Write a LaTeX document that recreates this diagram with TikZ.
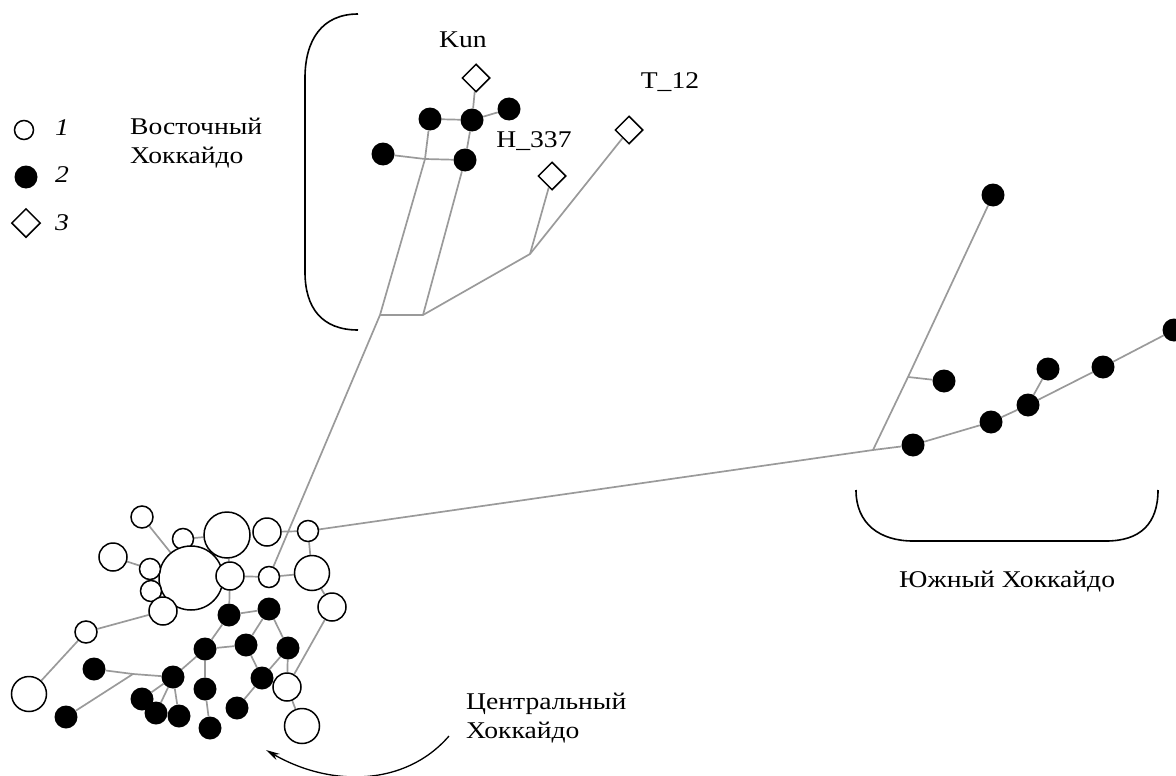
\documentclass[tikz,border=0pt]{standalone}
\usepackage{fontspec}
\setmainfont{Liberation Serif}[FakeStretch=1.15]
\usetikzlibrary{shapes.geometric,backgrounds,arrows.meta}
\definecolor{edgegray}{HTML}{9A9A9A}
\tikzset{
  oc/.style={circle, draw=black, line width=1.5pt, fill=white, inner sep=0pt, minimum size=#1},
  fc/.style={circle, fill=black, inner sep=0pt, minimum size=23pt},
  dm/.style={diamond, draw=black, line width=1.5pt, fill=white, inner sep=0pt, minimum size=28pt},
  ed/.style={draw=edgegray, line width=1.7pt},
  lbl/.style={font=\fontsize{24}{29}\selectfont, inner sep=0pt},
  brk/.style={draw=black, line width=1.6pt},
}
\begin{document}
\begin{tikzpicture}[x=1pt,y=-1pt]
\useasboundingbox (0,0) rectangle (1176,776);
% legend
\node[oc=19pt] (lg1) at (24,130) {};
\node[lbl, font=\fontsize{24}{29}\selectfont\itshape] (lt1) at (62,128) {1};
\node[fc, minimum size=23pt] (lg2) at (26,177) {};
\node[lbl, font=\fontsize{24}{29}\selectfont\itshape] (lt2) at (62,175) {2};
\node[dm, minimum size=29pt] (lg3) at (26,223) {};
\node[lbl, font=\fontsize{24}{29}\selectfont\itshape] (lt3) at (62,223) {3};
% region labels
\node[lbl, anchor=west, align=left] (east) at (130,143) {Восточный\\Хоккайдо};
\node[lbl] (south) at (1007,582) {Южный Хоккайдо};
\node[lbl, anchor=west, align=left] (central) at (466,718) {Центральный\\Хоккайдо};
% brackets
\draw[brk] (358,14) .. controls (322,14) and (305,40) .. (305,78) -- (305,272) .. controls (305,308) and (322,330) .. (358,330);
\draw[brk] (856,490) .. controls (856,524) and (880,541) .. (913,541) -- (1106,541) .. controls (1140,541) and (1158,524) .. (1158,490);
% arrow
\coordinate (arS) at (449,736);
\coordinate (arE) at (266,750);
\draw[line width=1.3pt, -{Stealth[length=14pt,width=7pt]}] (arS) .. controls (405,787) and (330,787) .. (arE);

% ---- East tree ----
\coordinate (R1) at (380,315);
\coordinate (R2) at (423,315);
\coordinate (R3) at (530,254);
\coordinate (J1) at (425,159);
\node[dm] (kun) at (476,78) {};
\node[dm] (h337) at (552,176) {};
\node[dm] (t12) at (629,130) {};
\node[lbl] (kunl) at (463,40) {Kun};
\node[lbl] (h337l) at (534,141) {H\_337};
\node[lbl] (t12l) at (670,82) {T\_12};
\node[fc] (e1) at (430,119) {};
\node[fc] (e2) at (472,120) {};
\node[fc] (e3) at (509,109) {};
\node[fc] (e4) at (383,154) {};
\node[fc] (e5) at (465,160) {};

% ---- South tree ----
\coordinate (SJ) at (873,450);
\coordinate (SB) at (908,377);
\node[fc] (s1) at (993,195) {};
\node[fc] (s2) at (944,381) {};
\node[fc] (s3) at (913,445) {};
\node[fc] (s4) at (991,422) {};
\node[fc] (s5) at (1028,405) {};
\node[fc] (s6) at (1048,369) {};
\node[fc] (s7) at (1103,367) {};
\node[fc] (s8) at (1174,330) {};

% ---- Central cluster ----
\node[oc=22pt] (A) at (142,517) {};
\node[oc=28pt] (B) at (113,557) {};
\node[oc=21pt] (C) at (183,539) {};
\node[oc=46pt] (D) at (227,535) {};
\node[oc=28pt] (E) at (267,532) {};
\node[oc=21pt] (F) at (308,531) {};
\node[oc=64pt] (G) at (191,578) {};
\node[oc=21pt] (H) at (150,569) {};
\node[oc=21pt] (I) at (151,591) {};
\node[oc=28pt] (J) at (163,611) {};
\node[oc=28pt] (K) at (230,576) {};
\node[oc=21pt] (L) at (269,577) {};
\node[oc=35pt] (M) at (312,573) {};
\node[oc=28pt] (N) at (332,607) {};
\node[oc=22pt] (O) at (86,632) {};
\node[oc=35pt] (P) at (29,694) {};
\node[oc=28pt] (Q) at (287,687) {};
\node[oc=35pt] (R) at (302,726) {};
\node[fc] (a) at (229,615) {};
\node[fc] (b) at (269,609) {};
\node[fc] (c) at (205,649) {};
\node[fc] (d) at (246,645) {};
\node[fc] (e) at (288,648) {};
\node[fc] (f) at (94,669) {};
\node[fc] (g) at (173,677) {};
\node[fc] (h) at (262,678) {};
\node[fc] (i) at (205,689) {};
\node[fc] (j) at (142,699) {};
\node[fc] (k) at (156,713) {};
\node[fc] (l) at (179,716) {};
\node[fc] (m) at (237,708) {};
\node[fc] (n) at (66,717) {};
\node[fc] (o) at (210,728) {};
\coordinate (X) at (133,674);

\begin{scope}[on background layer]
% east
\draw[ed] (L) -- (R1) -- (J1) -- (e1);
\draw[ed] (R1) -- (R2) -- (R3) -- (t12);
\draw[ed] (R3) -- (h337);
\draw[ed] (R2) -- (e5) -- (e2) -- (kun);
\draw[ed] (e4) -- (J1) -- (e5);
\draw[ed] (e1) -- (e2) -- (e3);
% main
\draw[ed] (F) -- (SJ);
% south
\draw[ed] (SJ) -- (SB) -- (s1);
\draw[ed] (SB) -- (s2);
\draw[ed] (SJ) -- (s3) -- (s4) -- (s5) -- (s7) -- (s8);
\draw[ed] (s5) -- (s6);
% central
\draw[ed] (A) -- (G);
\draw[ed] (C) -- (D);
\draw[ed] (B) -- (H);
\draw[ed] (E) -- (F) -- (M);
\draw[ed] (D) -- (K) -- (L) -- (M) -- (N) -- (Q) -- (R);
\draw[ed] (K) -- (a);
\draw[ed] (J) -- (O) -- (P);
\draw[ed] (a) -- (b) -- (d) -- (c) -- (a);
\draw[ed] (b) -- (e) -- (h) -- (d);
\draw[ed] (e) -- (Q);
\draw[ed] (h) -- (m);
\draw[ed] (c) -- (g);
\draw[ed] (c) -- (i) -- (o);
\draw[ed] (f) -- (X) -- (g);
\draw[ed] (n) -- (X);
\draw[ed] (g) -- (j);
\draw[ed] (g) -- (k);
\draw[ed] (g) -- (l);
\end{scope}
\end{tikzpicture}
\end{document}
